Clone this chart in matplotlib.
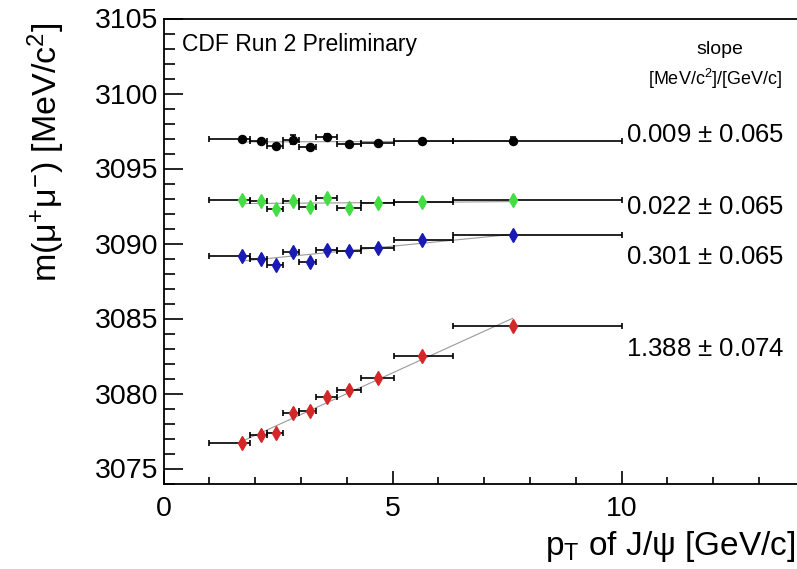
import numpy as np
import matplotlib
matplotlib.use("Agg")
import matplotlib.pyplot as plt
from matplotlib.ticker import MultipleLocator

plt.rcParams['font.family'] = ['Liberation Sans', 'DejaVu Sans']
plt.rcParams['mathtext.fontset'] = 'custom'
plt.rcParams['mathtext.rm'] = 'Liberation Sans'
plt.rcParams['mathtext.it'] = 'Liberation Sans:italic'

# ---- data ----
bin_lo = [1.0, 1.89, 2.25, 2.61, 2.96, 3.33, 3.78, 4.31, 5.02, 6.31]
bin_hi = [1.89, 2.25, 2.61, 2.96, 3.33, 3.78, 4.31, 5.02, 6.31, 10.0]
pt_mean = [1.70, 2.12, 2.46, 2.82, 3.19, 3.57, 4.05, 4.68, 5.65, 7.62]

mass_black = [3096.98, 3096.86, 3096.53, 3096.93, 3096.42, 3097.13, 3096.65, 3096.69, 3096.86, 3096.86]
mass_green = [3092.88, 3092.81, 3092.33, 3092.83, 3092.43, 3093.06, 3092.39, 3092.70, 3092.77, 3092.88]
mass_blue = [3089.18, 3089.00, 3088.56, 3089.44, 3088.78, 3089.60, 3089.51, 3089.73, 3090.22, 3090.55]
mass_red = [3076.71, 3077.26, 3077.37, 3078.70, 3078.81, 3079.76, 3080.25, 3081.03, 3082.53, 3084.52]

yerr_black = [0.1, 0.1, 0.1, 0.3, 0.1, 0.15, 0.1, 0.1, 0.1, 0.25]

slopes = [0.009, 0.022, 0.301, 1.388]
slope_errs = [0.065, 0.065, 0.065, 0.074]
slope_text_y = [3097.2, 3092.4, 3089.1, 3083.0]

series = [
    (mass_black, 'black', 'o'),
    (mass_green, '#44dd44', 'd'),
    (mass_blue, '#1a1ab4', 'd'),
    (mass_red, '#d42828', 'd'),
]

fig = plt.figure(figsize=(7.97, 5.69), dpi=100)
W, H = 797, 569
left_px, right_px = 163.7, 163.7 + 14 * 45.8
top_px, bot_px = 18.5, 483.5
ax = fig.add_axes([left_px / W, 1 - bot_px / H, (right_px - left_px) / W, (bot_px - top_px) / H])

x = np.array(pt_mean)
xerr = np.array([x - np.array(bin_lo), np.array(bin_hi) - x])

for i, (ys, col, mk) in enumerate(series):
    ys = np.array(ys)
    k = slopes[i]
    b = ys.mean() - k * x.mean()
    xs = np.array([x[0], x[-1]])
    ax.plot(xs, b + k * xs, color='#9a9a9a', lw=0.8, zorder=2)
    yerr = yerr_black if i == 0 else None
    ax.errorbar(x, ys, xerr=xerr, yerr=yerr, fmt='none', ecolor='black',
                elinewidth=1.2, capsize=2.2, capthick=1.2, zorder=3)
    ms = 5.8 if mk == 'o' else 6.8
    ax.plot(x, ys, linestyle='none', marker=mk, color=col, markersize=ms,
            markeredgecolor=col, zorder=4)

for ty, s, e in zip(slope_text_y, slopes, slope_errs):
    ax.text(10.1, ty, f"{s:.3f} $\\pm$ {e:.3f}", fontsize=18.5, va='center', ha='left')

ax.text(0.4, 3103.3, "CDF Run 2 Preliminary", fontsize=16.5, va='center', ha='left')
ax.text(12.15, 3102.9, "slope", fontsize=14, va='center', ha='center')
ax.text(12.04, 3100.95, r"[MeV/c$^{2}$]/[GeV/c]", fontsize=13, va='center', ha='center')

ax.set_xlim(0, 14)
ax.set_ylim(3074, 3105)
ax.xaxis.set_major_locator(MultipleLocator(5))
ax.xaxis.set_minor_locator(MultipleLocator(1))
ax.yaxis.set_major_locator(MultipleLocator(5))
ax.yaxis.set_minor_locator(MultipleLocator(1))
ax.tick_params(axis='both', which='both', direction='in', top=False, right=False, width=1.2)
ax.tick_params(axis='y', which='major', length=14, labelsize=20.5, pad=4)
ax.tick_params(axis='y', which='minor', length=8)
ax.tick_params(axis='x', which='major', length=9.5, labelsize=20.5, pad=9)
ax.tick_params(axis='x', which='minor', length=5)
for sp in ax.spines.values():
    sp.set_linewidth(1.3)

fig.text(795 / W, 1 - 547 / H, r"p$_{\mathrm{T}}$ of J/ψ [GeV/c]", fontsize=24,
         ha='right', va='center')
fig.text(46 / W, 1 - 152 / H, r"m(μ$^{+}$μ$^{-}$) [MeV/c$^{2}$]", fontsize=24.5,
         ha='center', va='center', rotation=90)

fig.savefig("out.png", dpi=100)
